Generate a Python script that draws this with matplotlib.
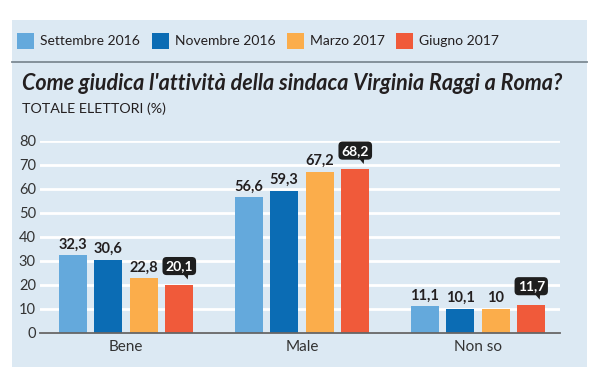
import numpy as np
import matplotlib.pyplot as plt
from matplotlib.patches import Rectangle, Polygon

# ---------------------------- data ----------------------------
categories = ["Bene", "Male", "Non so"]
series_names = ["Settembre 2016", "Novembre 2016", "Marzo 2017", "Giugno 2017"]
settembre_2016 = [32.3, 56.6, 11.1]
novembre_2016 = [30.6, 59.3, 10.1]
marzo_2017 = [22.8, 67.2, 10.0]
giugno_2017 = [20.1, 68.2, 11.7]
yticks = [0, 10, 20, 30, 40, 50, 60, 70, 80]

series = [settembre_2016, novembre_2016, marzo_2017, giugno_2017]
colors = ["#64a9dc", "#0b6cb4", "#fbad4b", "#f05a3a"]
bg = "#dce9f3"
ink = "#231f20"

plt.rcParams['font.family'] = ['Lato', 'DejaVu Sans']


def fmt(v):
    s = "%.1f" % v
    if s.endswith(".0"):
        s = s[:-2]
    return s.replace(".", ",")


# ---------------------------- plot ----------------------------
fig = plt.figure(figsize=(6.06, 3.69), dpi=100)
W, H = 606.0, 369.0

# panel background
fig.patches.append(Rectangle((12 / W, 2 / H), 575 / W, 347 / H, transform=fig.transFigure,
                             facecolor=bg, edgecolor="none", zorder=-10))
# separator under legend
fig.add_artist(plt.Line2D([12 / W, 587 / W], [1 - 62 / H, 1 - 62 / H], transform=fig.transFigure,
                          color="#7d8a93", lw=1.3))

ax = fig.add_axes([40 / W, 36 / H, 520 / W, 192 / H])
ax.set_facecolor(bg)

x = np.arange(len(categories))
pitch = 0.2017
width = 0.159
for i, (vals, col) in enumerate(zip(series, colors)):
    pos = x + (i - 1.5) * pitch
    ax.bar(pos, vals, width, color=col, zorder=3)
    for px, v in zip(pos, vals):
        if i < 3:
            ax.text(px, v + 1.6, fmt(v), ha="center", va="bottom", fontsize=10.5,
                    fontweight="bold", color=ink, zorder=5)
        else:
            # black callout with a pointer
            ax.text(px, v + 7.8, fmt(v), ha="center", va="center", fontsize=10,
                    fontweight="bold", color="white", zorder=6, clip_on=False,
                    bbox=dict(boxstyle="round,pad=0.22,rounding_size=0.3",
                              facecolor="#1e1e1e", edgecolor="none"))
            ax.add_patch(Polygon([[px + 0.012, v + 5.3], [px + 0.052, v + 5.3], [px + 0.048, v + 2.2]],
                                 closed=True, facecolor="#1e1e1e", edgecolor="none",
                                 clip_on=False, zorder=5))

ax.set_xlim(-0.489, 2.466)
ax.set_ylim(0, 80)
ax.set_yticks(yticks)
ax.set_xticks(x)
ax.set_xticklabels(categories, fontsize=11, color="#333333")
ax.tick_params(axis="y", length=0, pad=3, labelsize=10.5, labelcolor="#333333")
ax.tick_params(axis="x", length=0, pad=5)
ax.grid(axis="y", color="white", lw=2, zorder=0)
ax.set_axisbelow(True)
for s in ["left", "right", "top"]:
    ax.spines[s].set_visible(False)
ax.spines["bottom"].set_color("#666666")
ax.spines["bottom"].set_linewidth(1.3)
ax.spines["bottom"].set_zorder(4)

# legend (square swatches + labels)
swatch_x = [17, 152, 287, 396]
for sx, col, name in zip(swatch_x, colors, series_names):
    fig.patches.append(Rectangle((sx / W, 1 - 49 / H), 17 / W, 16 / H, transform=fig.transFigure,
                                 facecolor=col, edgecolor="none"))
    fig.text((sx + 23) / W, 1 - 41 / H, name, fontsize=10, color=ink, va="center")

fig.text(22 / W, 1 - 90 / H, "Come giudica l'attività della sindaca Virginia Raggi a Roma?",
         fontsize=15.5, fontweight="bold", fontstyle="italic", color=ink, va="baseline")
fig.text(22 / W, 1 - 113 / H, "TOTALE ELETTORI (%)", fontsize=10.3, color=ink, va="baseline")

plt.savefig("out.png", dpi=100)
